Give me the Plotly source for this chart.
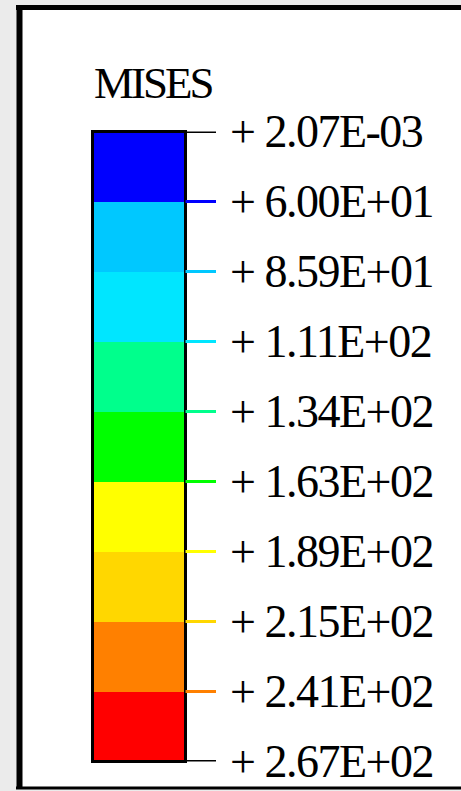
import plotly.graph_objects as go

# ---- data ----
title_text = "MISES"
band_colors = ["#0000ff", "#00c8ff", "#00e6ff", "#00ff8c", "#00ff00",
               "#ffff00", "#ffd700", "#ff8000", "#ff0000"]
tick_labels = ["+ 2.07E-03", "+ 6.00E+01", "+ 8.59E+01", "+ 1.11E+02", "+ 1.34E+02",
               "+ 1.63E+02", "+ 1.89E+02", "+ 2.15E+02", "+ 2.41E+02", "+ 2.67E+02"]
tick_line_colors = ["#000000", "#0000ff", "#00c8ff", "#00e6ff", "#00ff8c",
                    "#00ff00", "#ffff00", "#ffd700", "#ff8000", "#000000"]

W, H = 461, 791
n = len(band_colors)

def px(x):
    return x / W

def py(y):
    return 1 - y / H

fig = go.Figure()
fig.add_trace(go.Bar(
    x=[0] * n,
    y=[1] * n,
    base=list(range(n)),
    width=1,
    marker=dict(color=band_colors, line=dict(width=0)),
    hoverinfo="skip",
    showlegend=False,
))

shapes = []
# white panel with black frame
shapes.append(dict(type="rect", xref="paper", yref="paper",
                   x0=px(19), x1=px(470), y0=py(788), y1=py(8),
                   fillcolor="white", line=dict(width=0), layer="below"))
shapes.append(dict(type="line", xref="paper", yref="paper",
                   x0=px(19.5), x1=px(19.5), y0=py(789), y1=py(5),
                   line=dict(color="black", width=6)))
shapes.append(dict(type="line", xref="paper", yref="paper",
                   x0=px(16), x1=px(470), y0=py(7.5), y1=py(7.5),
                   line=dict(color="black", width=5)))
shapes.append(dict(type="line", xref="paper", yref="paper",
                   x0=px(16), x1=px(470), y0=py(788), y1=py(788),
                   line=dict(color="black", width=3)))
# colour bar frame
shapes.append(dict(type="rect", xref="x domain", yref="y domain",
                   x0=0, x1=1, y0=0, y1=1,
                   line=dict(color="black", width=3), layer="above"))
# tick lines
dom_w = 185.5 - 92.5
for i, c in enumerate(tick_line_colors):
    x0 = 1.0 if 0 < i < n else (184 - 92.5) / dom_w
    shapes.append(dict(type="line", xref="x domain", yref="y",
                       x0=x0, x1=(216 - 92.5) / dom_w, y0=i, y1=i,
                       line=dict(color=c, width=3)))

annotations = []
annotations.append(dict(xref="paper", yref="paper", x=px(92), y=py(83),
                        xanchor="left", yanchor="middle", showarrow=False,
                        text='<span style="letter-spacing:-3px">%s</span>' % title_text,
                        font=dict(family="Liberation Serif", size=45, color="black")))
for i, t in enumerate(tick_labels):
    annotations.append(dict(xref="paper", yref="y", x=px(228), y=i,
                            xanchor="left", yanchor="middle", showarrow=False,
                            text='<span style="letter-spacing:-1.5px">%s</span>' % t,
                            font=dict(family="Liberation Serif", size=46, color="black")))

fig.update_layout(
    width=W, height=H,
    margin=dict(l=0, r=0, t=0, b=0),
    paper_bgcolor="#ebebeb",
    plot_bgcolor="rgba(0,0,0,0)",
    bargap=0,
    barmode="overlay",
    xaxis=dict(domain=[px(92.5), px(185.5)], range=[-0.5, 0.5], visible=False, fixedrange=True),
    yaxis=dict(domain=[py(761.5), py(131.5)], range=[n, 0], visible=False, fixedrange=True),
    shapes=shapes,
    annotations=annotations,
)

fig.write_html(
    "out.html",
    config={"displayModeBar": False},
    post_script="document.body.style.margin='0';document.body.style.overflow='hidden';",
)
